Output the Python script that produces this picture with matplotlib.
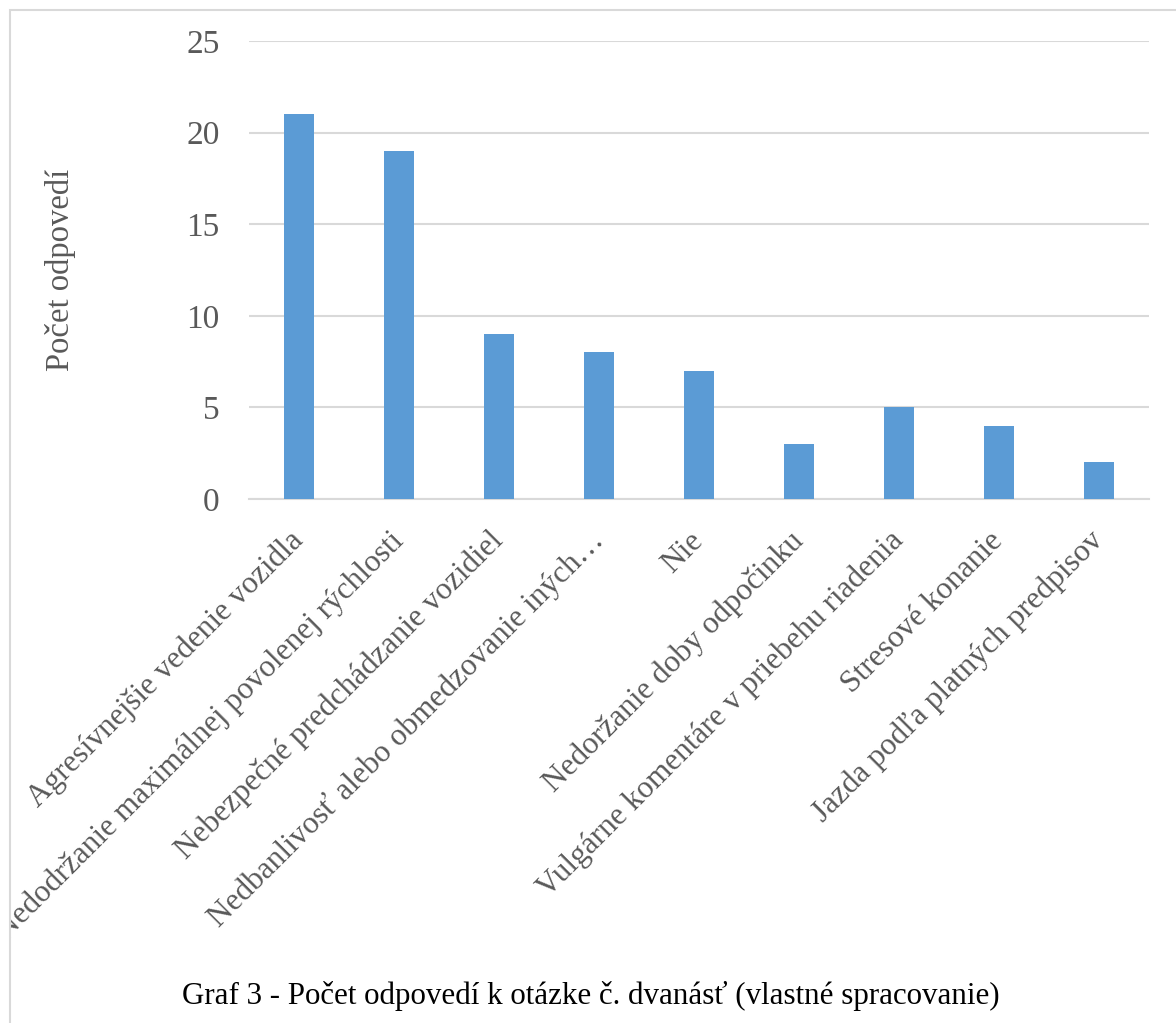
import matplotlib.pyplot as plt
import matplotlib.patches as patches

plt.rcParams['font.family'] = ['Liberation Serif', 'DejaVu Serif']

kategorie = ["Agresívnejšie vedenie vozidla",
             "Nedodržanie maximálnej povolenej rýchlosti",
             "Nebezpečné predchádzanie vozidiel",
             "Nedbanlivosť alebo obmedzovanie iných…",
             "Nie",
             "Nedoržanie doby odpočinku",
             "Vulgárne komentáre v priebehu riadenia",
             "Stresové konanie",
             "Jazda podľa platných predpisov"]
odpovede = [21, 19, 9, 8, 7, 3, 5, 4, 2]
y_ticks = [0, 5, 10, 15, 20, 25]

text_col = "#595959"
grid_col = "#d9d9d9"
bar_col = "#5b9bd5"

fig = plt.figure(figsize=(11.76, 10.23), dpi=100)
ax = fig.add_axes([249/1176, 1-499/1023, 900/1176, 458/1023])

x = range(len(kategorie))
ax.bar(x, odpovede, width=0.3, color=bar_col, zorder=3)

ax.set_xlim(-0.5, len(kategorie)-0.5)
ax.set_ylim(0, 25)
ax.set_yticks(y_ticks)
ax.set_yticklabels([str(v) for v in y_ticks], fontsize=24, color=text_col)
ax.set_xticks(list(x))
ax.set_xticklabels(kategorie, rotation=45, ha='right', va='center',
                   rotation_mode='anchor', fontsize=22.5, color=text_col)
ax.tick_params(axis='y', length=0, pad=21)
ax.tick_params(axis='x', length=0, pad=27)

ax.yaxis.grid(True, color=grid_col, linewidth=1.5, zorder=0)
for s in ['top', 'right', 'left']:
    ax.spines[s].set_visible(False)
ax.spines['bottom'].set_color(grid_col)
ax.spines['bottom'].set_linewidth(1.5)
ax.set_ylabel("Počet odpovedí", fontsize=23.5, color=text_col, labelpad=0)
ax.yaxis.set_label_coords(-173/900, 0.5)

# ramček grafu
ramcek = patches.Rectangle((10/1176, -0.1), 1.2, 1-10/1023+0.1, transform=fig.transFigure,
                           fill=False, edgecolor=grid_col, linewidth=1.5)
fig.patches.append(ramcek)
for lbl in ax.get_xticklabels():
    lbl.set_clip_on(True)
    lbl.set_clip_path(ramcek)

fig.text(591/1176, 1-996/1023, "Graf 3 - Počet odpovedí k otázke č. dvanásť (vlastné spracovanie)",
         ha='center', va='center', fontsize=22.3, color='black')

fig.savefig("out.png", dpi=100)
